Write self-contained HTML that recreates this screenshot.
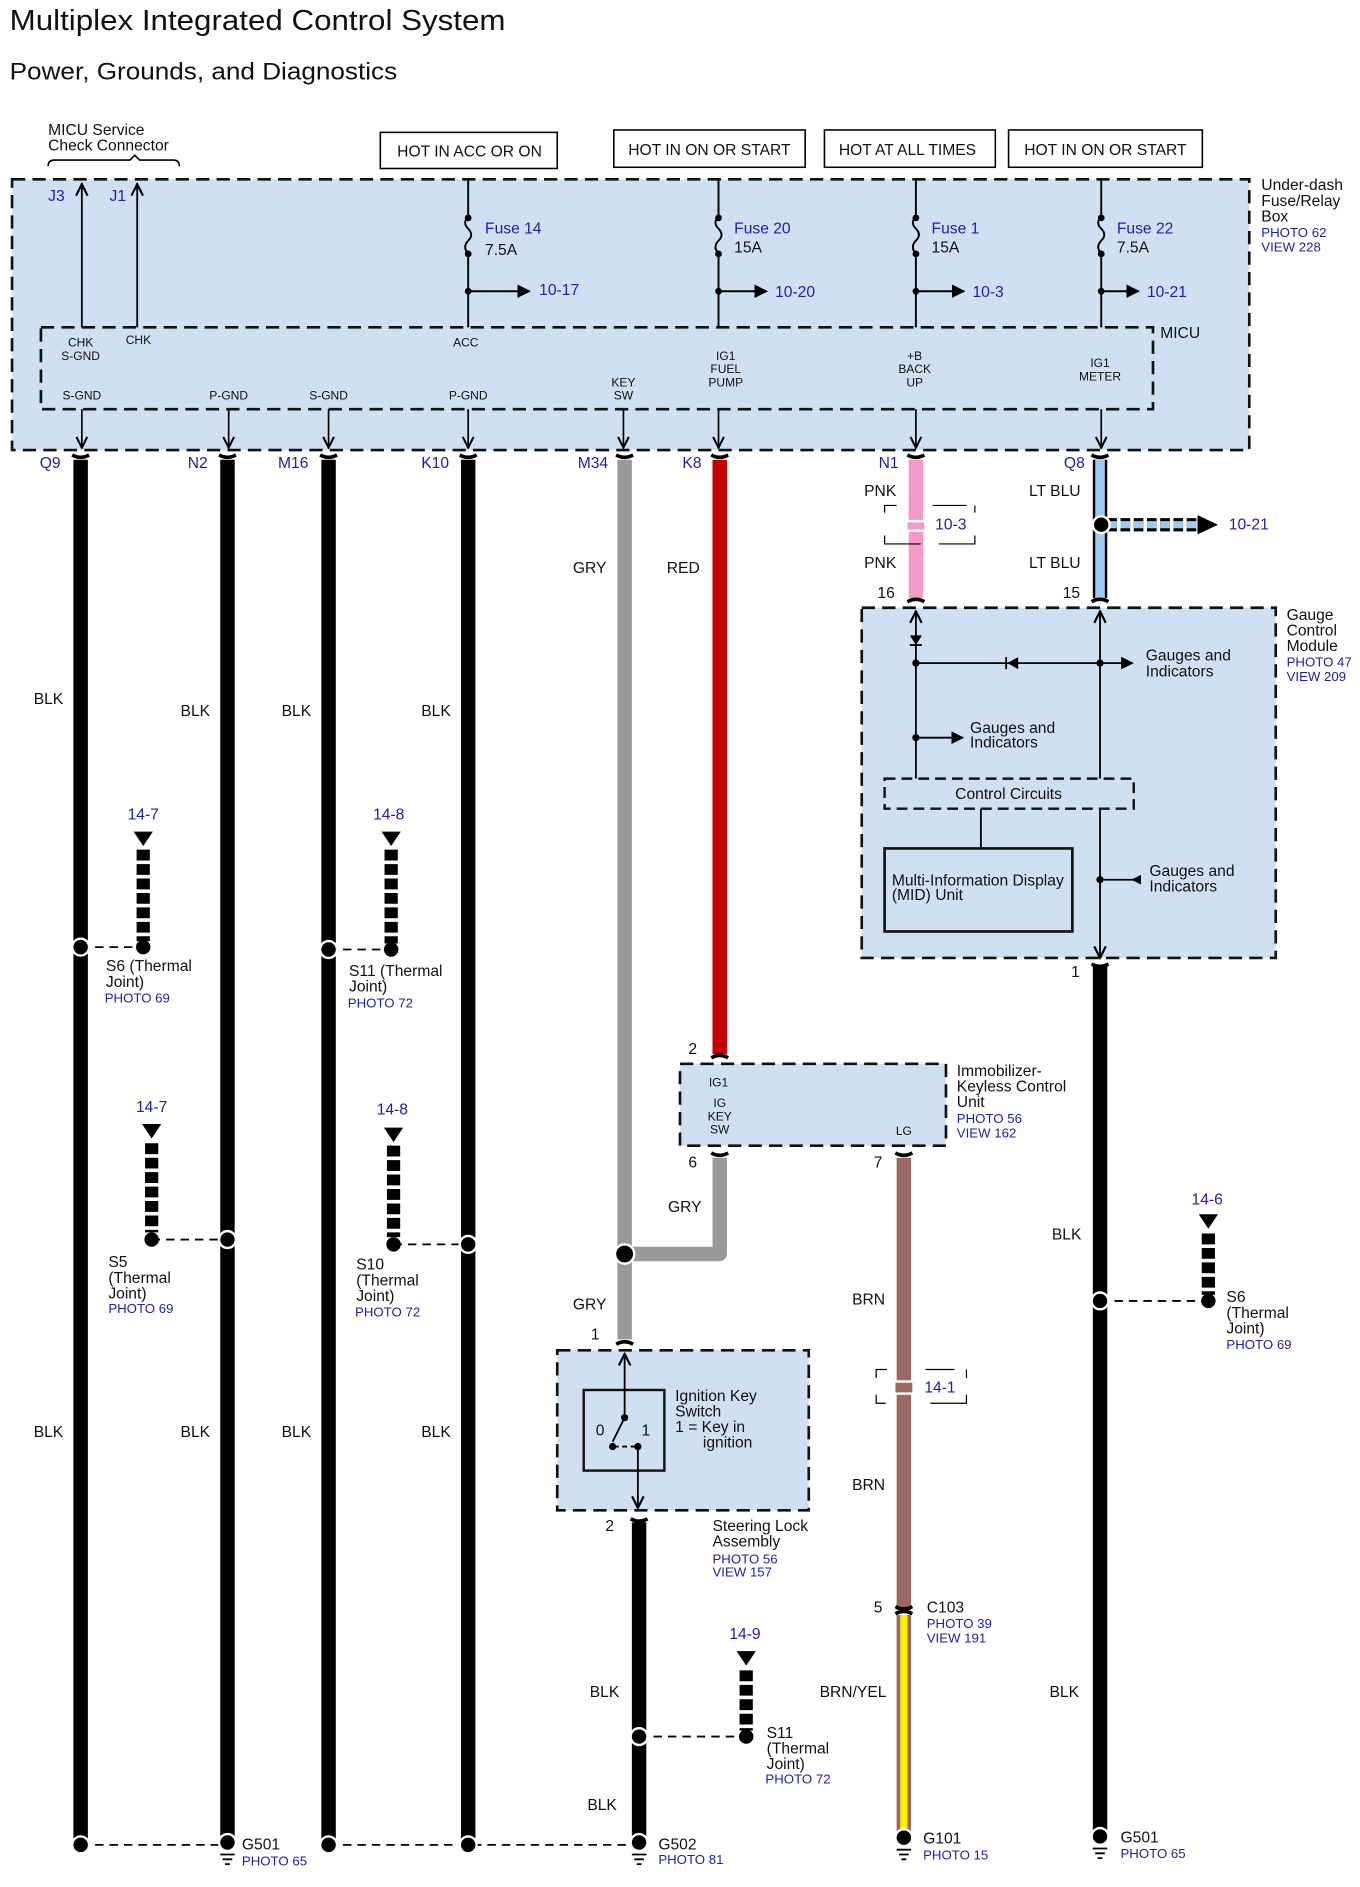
<!DOCTYPE html>
<html><head><meta charset="utf-8">
<style>
html,body{margin:0;padding:0;background:#fff}
svg{display:block}
text{font-family:"Liberation Sans",Arial,sans-serif;fill:#111}
.b{fill:#1f1fa6}
.s{font-size:10px}
.m{font-size:13px}
.p{font-size:11px}
</style></head><body>
<svg width="1360" height="1887" viewBox="0 0 1130 1568" preserveAspectRatio="none" xmlns="http://www.w3.org/2000/svg">
<defs>
<marker id="ah" viewBox="0 0 10 10" refX="9" refY="5" markerWidth="7" markerHeight="7" orient="auto"><path d="M0,0 L10,5 L0,10 z" fill="#000"/></marker>
<marker id="oa" viewBox="0 0 10 10" refX="9" refY="5" markerWidth="8" markerHeight="8" orient="auto"><path d="M1,1 L9,5 L1,9" fill="none" stroke="#000" stroke-width="1.5"/></marker>
</defs>
<rect width="1130" height="1568" fill="#fff"/>
<text x="8" y="25" style="font-size:24px" textLength="412" lengthAdjust="spacingAndGlyphs">Multiplex Integrated Control System</text>
<text x="8" y="66" style="font-size:20px" textLength="322" lengthAdjust="spacingAndGlyphs">Power, Grounds, and Diagnostics</text>

<!-- header -->
<text x="40" y="112" class="m">MICU Service</text>
<text x="40" y="125" class="m">Check Connector</text>
<path d="M40,138 q0,-5 5,-5 h63 l4,-4 l4,4 h28 q5,0 5,5" fill="none" stroke="#000" stroke-width="1.3"/>
<g fill="#fff" stroke="#000" stroke-width="1.3">
<rect x="316" y="110" width="147" height="30"/>
<rect x="510" y="108" width="159" height="31"/>
<rect x="685" y="108" width="142" height="31"/>
<rect x="838" y="108" width="161" height="31"/>
</g>
<text x="330" y="130" class="m">HOT IN ACC OR ON</text>
<text x="522" y="129" class="m">HOT IN ON OR START</text>
<text x="697" y="129" class="m">HOT AT ALL TIMES</text>
<text x="851" y="129" class="m">HOT IN ON OR START</text>

<!-- fuse box -->
<rect x="10" y="149" width="1028" height="225" fill="#cfe0f3" stroke="#111" stroke-width="2.2" stroke-dasharray="11,6"/>
<rect x="34" y="272" width="924" height="68" fill="#cfe0f3" stroke="#111" stroke-width="2.2" stroke-dasharray="11,6"/>
<text x="1048" y="158" class="m">Under-dash</text>
<text x="1048" y="171" class="m">Fuse/Relay</text>
<text x="1048" y="184" class="m">Box</text>
<text x="1048" y="197" class="p b">PHOTO 62</text>
<text x="1048" y="209" class="p b">VIEW 228</text>
<text x="964" y="281" class="m">MICU</text>
<g stroke="#000" stroke-width="1.5" fill="none">
<line x1="68" y1="272" x2="68" y2="153" marker-end="url(#oa)"/>
<line x1="114" y1="272" x2="114" y2="153" marker-end="url(#oa)"/>
</g>
<text x="40" y="167" class="m b">J3</text>
<text x="91" y="167" class="m b">J1</text>
<g stroke="#000" stroke-width="1.6" fill="none">
<path d="M389,149 V180 q-5,5 0,10 q5,5 0,10 q-5,5 0,11 V272"/>
<path d="M597,149 V180 q-5,5 0,10 q5,5 0,10 q-5,5 0,11 V272"/>
<path d="M761,149 V180 q-5,5 0,10 q5,5 0,10 q-5,5 0,11 V272"/>
<path d="M915,149 V180 q-5,5 0,10 q5,5 0,10 q-5,5 0,11 V272"/>
<line x1="389" y1="242" x2="440" y2="242" marker-end="url(#ah)"/>
<line x1="597" y1="242" x2="637" y2="242" marker-end="url(#ah)"/>
<line x1="761" y1="242" x2="801" y2="242" marker-end="url(#ah)"/>
<line x1="915" y1="242" x2="946" y2="242" marker-end="url(#ah)"/>
</g>
<g fill="#000">
<circle cx="389" cy="181" r="2.8"/><circle cx="389" cy="211" r="2.8"/><circle cx="389" cy="242" r="2.8"/>
<circle cx="597" cy="181" r="2.8"/><circle cx="597" cy="211" r="2.8"/><circle cx="597" cy="242" r="2.8"/>
<circle cx="761" cy="181" r="2.8"/><circle cx="761" cy="211" r="2.8"/><circle cx="761" cy="242" r="2.8"/>
<circle cx="915" cy="181" r="2.8"/><circle cx="915" cy="211" r="2.8"/><circle cx="915" cy="242" r="2.8"/>
</g>
<text x="403" y="194" class="m b">Fuse 14</text><text x="403" y="212" class="m">7.5A</text>
<text x="610" y="194" class="m b">Fuse 20</text><text x="610" y="210" class="m">15A</text>
<text x="774" y="194" class="m b">Fuse 1</text><text x="774" y="210" class="m">15A</text>
<text x="928" y="194" class="m b">Fuse 22</text><text x="928" y="210" class="m">7.5A</text>
<text x="448" y="245" class="m b">10-17</text>
<text x="644" y="247" class="m b">10-20</text>
<text x="808" y="247" class="m b">10-3</text>
<text x="953" y="247" class="m b">10-21</text>

<g class="s" text-anchor="middle">
<text x="67" y="288" class="s">CHK</text><text x="67" y="299" class="s">S-GND</text>
<text x="115" y="286" class="s">CHK</text>
<text x="387" y="288" class="s">ACC</text>
<text x="68" y="332" class="s">S-GND</text>
<text x="190" y="332" class="s">P-GND</text>
<text x="273" y="332" class="s">S-GND</text>
<text x="389" y="332" class="s">P-GND</text>
<text x="518" y="321" class="s">KEY</text><text x="518" y="332" class="s">SW</text>
<text x="603" y="299" class="s">IG1</text><text x="603" y="310" class="s">FUEL</text><text x="603" y="321" class="s">PUMP</text>
<text x="760" y="299" class="s">+B</text><text x="760" y="310" class="s">BACK</text><text x="760" y="321" class="s">UP</text>
<text x="914" y="305" class="s">IG1</text><text x="914" y="316" class="s">METER</text>
</g>
<g stroke="#000" stroke-width="1.4" fill="none">
<line x1="68" y1="340" x2="68" y2="372" marker-end="url(#oa)"/>
<line x1="190" y1="340" x2="190" y2="372" marker-end="url(#oa)"/>
<line x1="273" y1="340" x2="273" y2="372" marker-end="url(#oa)"/>
<line x1="389" y1="340" x2="389" y2="372" marker-end="url(#oa)"/>
<line x1="518" y1="340" x2="518" y2="372" marker-end="url(#oa)"/>
<line x1="597" y1="340" x2="597" y2="372" marker-end="url(#oa)"/>
<line x1="761" y1="340" x2="761" y2="372" marker-end="url(#oa)"/>
<line x1="915" y1="340" x2="915" y2="372" marker-end="url(#oa)"/>
</g>
<g class="m b">
<text x="33" y="389" class="m b">Q9</text>
<text x="156" y="389" class="m b">N2</text>
<text x="231" y="389" class="m b">M16</text>
<text x="350" y="389" class="m b">K10</text>
<text x="480" y="389" class="m b">M34</text>
<text x="567" y="389" class="m b">K8</text>
<text x="730" y="389" class="m b">N1</text>
<text x="884" y="389" class="m b">Q8</text>
</g>

<!-- wires -->
<g stroke-width="12" fill="none">
<line x1="67" y1="382" x2="67" y2="1533" stroke="#000"/>
<line x1="189" y1="382" x2="189" y2="1530" stroke="#000"/>
<line x1="273" y1="382" x2="273" y2="1533" stroke="#000"/>
<line x1="389" y1="382" x2="389" y2="1533" stroke="#000"/>
<line x1="519" y1="382" x2="519" y2="1113" stroke="#999"/>
<line x1="598" y1="382" x2="598" y2="876" stroke="#c40000"/>
<path d="M598,962 V1042 H519" stroke="#999" stroke-linejoin="round"/>
<line x1="761" y1="382" x2="761" y2="497" stroke="#f59ac8"/>
<line x1="751" y1="962" x2="751" y2="1338" stroke="#9b6863"/>
<line x1="531" y1="1265" x2="531" y2="1530" stroke="#000"/>
<line x1="914" y1="802" x2="914" y2="1528" stroke="#000"/>
</g>
<line x1="914" y1="382" x2="914" y2="497" stroke="#000" stroke-width="12"/>
<line x1="914" y1="382" x2="914" y2="497" stroke="#9ec9f0" stroke-width="8"/>
<line x1="751" y1="1342" x2="751" y2="1525" stroke="#9b6863" stroke-width="12"/>
<line x1="751" y1="1342" x2="751" y2="1525" stroke="#ffee00" stroke-width="6"/>
<!-- connector caps -->
<g fill="none" stroke="#000" stroke-width="3">
<path d="M60,378 q7,4 14,0"/><path d="M182,378 q7,4 14,0"/><path d="M266,378 q7,4 14,0"/><path d="M382,378 q7,4 14,0"/>
<path d="M512,378 q7,4 14,0"/><path d="M591,378 q7,4 14,0"/><path d="M754,378 q7,4 14,0"/><path d="M907,378 q7,4 14,0"/>
<path d="M754,500 q7,-4 14,0"/><path d="M907,500 q7,-4 14,0"/>
<path d="M907,801 q7,4 14,0"/>
<path d="M591,879 q7,-4 14,0"/>
<path d="M591,958 q7,4 14,0"/><path d="M744,958 q7,4 14,0"/>
<path d="M512,1117 q7,-4 14,0"/>
<path d="M524,1262 q7,4 14,0"/>
<path d="M744,1335 q7,4 14,0"/><path d="M744,1341 q7,-4 14,0"/>
</g>
<!-- 10-3 bracket -->
<rect x="754" y="432" width="14" height="10" fill="#fff"/>
<rect x="754" y="434" width="14" height="6" fill="#f59ac8"/>
<path d="M745,420 h-10 v6 M735,445 v7 h30 M775,420 h28 M810,420 v6 M810,445 v7 h-30" fill="none" stroke="#000" stroke-width="1"/>
<text x="777" y="440" class="m b">10-3</text>
<text x="718" y="412" class="m">PNK</text><text x="718" y="472" class="m">PNK</text>
<text x="855" y="412" class="m">LT BLU</text><text x="855" y="472" class="m">LT BLU</text>
<text x="729" y="497" class="m">16</text><text x="883" y="497" class="m">15</text>
<!-- 10-21 arrow -->
<line x1="920" y1="436" x2="995" y2="436" stroke="#000" stroke-width="11" stroke-dasharray="8,3"/>
<line x1="920" y1="436" x2="995" y2="436" stroke="#9ec9f0" stroke-width="6" stroke-dasharray="8,3"/>
<path d="M995,428 L1012,436 L995,444 z" fill="#000"/>
<circle cx="915" cy="436" r="7" fill="#000" stroke="#fff" stroke-width="2"/>
<text x="1021" y="440" class="m b">10-21</text>
<text x="476" y="476" class="m">GRY</text>
<text x="554" y="476" class="m">RED</text>
<g class="m">
<text x="28" y="585" class="m">BLK</text><text x="150" y="595" class="m">BLK</text><text x="234" y="595" class="m">BLK</text><text x="350" y="595" class="m">BLK</text>
<text x="28" y="1194" class="m">BLK</text><text x="150" y="1194" class="m">BLK</text><text x="234" y="1194" class="m">BLK</text><text x="350" y="1194" class="m">BLK</text>
</g>

<!-- Gauge module -->
<rect x="716" y="505" width="344" height="291" fill="#cfe0f3" stroke="#111" stroke-width="2.2" stroke-dasharray="11,6"/>
<text x="1069" y="515" class="m">Gauge</text><text x="1069" y="528" class="m">Control</text><text x="1069" y="541" class="m">Module</text>
<text x="1069" y="554" class="p b">PHOTO 47</text><text x="1069" y="566" class="p b">VIEW 209</text>
<g stroke="#000" stroke-width="1.5" fill="none">
<line x1="761" y1="647" x2="761" y2="508" marker-end="url(#oa)"/>
<line x1="914" y1="647" x2="914" y2="508" marker-end="url(#oa)"/>
<line x1="914" y1="672" x2="914" y2="796" marker-end="url(#oa)"/>
<line x1="761" y1="551" x2="940" y2="551" />
<line x1="940" y1="551" x2="941" y2="551" marker-end="url(#ah)"/>
<line x1="761" y1="613" x2="800" y2="613" marker-end="url(#ah)"/>
<line x1="946" y1="731" x2="917" y2="731"/>
<line x1="815" y1="672" x2="815" y2="705"/>
<line x1="756" y1="536" x2="766" y2="536"/>
<line x1="836" y1="546" x2="836" y2="556"/>
</g>
<path d="M756,528 L766,528 L761,536 z" fill="#000"/>
<path d="M846,546 L846,556 L837,551 z" fill="#000"/>
<path d="M948,727 L948,735 L940,731 z" fill="#000"/>
<g fill="#000"><circle cx="761" cy="551" r="3"/><circle cx="914" cy="551" r="3"/><circle cx="761" cy="613" r="3"/><circle cx="914" cy="731" r="3"/></g>
<text x="952" y="549" class="m">Gauges and</text><text x="952" y="562" class="m">Indicators</text>
<text x="806" y="609" class="m">Gauges and</text><text x="806" y="621" class="m">Indicators</text>
<text x="955" y="728" class="m">Gauges and</text><text x="955" y="741" class="m">Indicators</text>
<rect x="735" y="647" width="207" height="25" fill="#cfe0f3" stroke="#111" stroke-width="2" stroke-dasharray="9,5"/>
<text x="838" y="664" class="m" text-anchor="middle">Control Circuits</text>
<rect x="735" y="705" width="156" height="69" fill="none" stroke="#111" stroke-width="2.2"/>
<text x="741" y="736" class="m">Multi-Information Display</text><text x="741" y="748" class="m">(MID) Unit</text>
<text x="890" y="812" class="m">1</text>

<!-- thermal joints -->
<g stroke="#000" stroke-width="1.5" stroke-dasharray="7,5" fill="none">
<line x1="67" y1="787" x2="119" y2="787"/>
<line x1="273" y1="789" x2="325" y2="789"/>
<line x1="126" y1="1030" x2="188" y2="1030"/>
<line x1="327" y1="1034" x2="389" y2="1034"/>
<line x1="914" y1="1081" x2="1004" y2="1081"/>
<line x1="531" y1="1443" x2="620" y2="1443"/>
<line x1="67" y1="1533" x2="189" y2="1533"/>
<line x1="273" y1="1533" x2="531" y2="1533"/>
</g>
<g stroke="#000" stroke-width="11" stroke-dasharray="9,3" fill="none">
<line x1="119" y1="706" x2="119" y2="782"/>
<line x1="325" y1="706" x2="325" y2="784"/>
<line x1="126" y1="950" x2="126" y2="1024"/>
<line x1="327" y1="952" x2="327" y2="1028"/>
<line x1="1004" y1="1025" x2="1004" y2="1076"/>
<line x1="620" y1="1388" x2="620" y2="1438"/>
</g>
<g fill="#000">
<path d="M111,691 h16 l-8,12 z"/><path d="M317,691 h16 l-8,12 z"/>
<path d="M118,934 h16 l-8,12 z"/><path d="M319,937 h16 l-8,12 z"/>
<path d="M996,1009 h16 l-8,12 z"/><path d="M612,1372 h16 l-8,12 z"/>
<circle cx="119" cy="787" r="6"/><circle cx="325" cy="789" r="6"/><circle cx="126" cy="1030" r="6"/><circle cx="327" cy="1034" r="6"/>
<circle cx="1004" cy="1081" r="6"/><circle cx="620" cy="1443" r="6"/>
</g>
<g fill="#000" stroke="#fff" stroke-width="2">
<circle cx="67" cy="787" r="7"/><circle cx="273" cy="789" r="7"/><circle cx="189" cy="1030" r="7"/><circle cx="389" cy="1034" r="7"/>
<circle cx="914" cy="1081" r="7"/><circle cx="531" cy="1443" r="7"/><circle cx="519" cy="1042" r="8"/>
<circle cx="67" cy="1533" r="7"/><circle cx="273" cy="1533" r="7"/><circle cx="389" cy="1533" r="7"/>
<circle cx="189" cy="1531" r="7"/><circle cx="531" cy="1531" r="7"/><circle cx="751" cy="1527" r="7"/><circle cx="914" cy="1526" r="7"/>
</g>
<g stroke="#000" stroke-width="1.5">
<path d="M183,1541 h12 M185,1545 h8 M187,1549 h4"/>
<path d="M525,1541 h12 M527,1545 h8 M529,1549 h4"/>
<path d="M745,1537 h12 M747,1541 h8 M749,1545 h4"/>
<path d="M908,1536 h12 M910,1540 h8 M912,1544 h4"/>
</g>
<text x="106" y="681" class="m b">14-7</text><text x="310" y="681" class="m b">14-8</text>
<text x="113" y="924" class="m b">14-7</text><text x="313" y="926" class="m b">14-8</text>
<text x="990" y="1001" class="m b">14-6</text><text x="606" y="1362" class="m b">14-9</text>
<text x="88" y="807" class="m">S6 (Thermal</text><text x="88" y="820" class="m">Joint)</text><text x="87" y="833" class="p b">PHOTO 69</text>
<text x="290" y="811" class="m">S11 (Thermal</text><text x="290" y="824" class="m">Joint)</text><text x="289" y="837" class="p b">PHOTO 72</text>
<text x="90" y="1053" class="m">S5</text><text x="90" y="1066" class="m">(Thermal</text><text x="90" y="1079" class="m">Joint)</text><text x="90" y="1091" class="p b">PHOTO 69</text>
<text x="296" y="1055" class="m">S10</text><text x="296" y="1068" class="m">(Thermal</text><text x="296" y="1081" class="m">Joint)</text><text x="295" y="1094" class="p b">PHOTO 72</text>
<text x="1019" y="1082" class="m">S6</text><text x="1019" y="1095" class="m">(Thermal</text><text x="1019" y="1108" class="m">Joint)</text><text x="1019" y="1121" class="p b">PHOTO 69</text>
<text x="637" y="1444" class="m">S11</text><text x="637" y="1457" class="m">(Thermal</text><text x="637" y="1470" class="m">Joint)</text><text x="636" y="1482" class="p b">PHOTO 72</text>
<text x="874" y="1030" class="m">BLK</text><text x="872" y="1410" class="m">BLK</text>

<!-- immobilizer -->
<rect x="565" y="884" width="221" height="68" fill="#cfe0f3" stroke="#111" stroke-width="2.2" stroke-dasharray="11,6"/>
<text x="597" y="903" class="s" text-anchor="middle">IG1</text>
<text x="598" y="920" class="s" text-anchor="middle">IG</text><text x="598" y="931" class="s" text-anchor="middle">KEY</text><text x="598" y="942" class="s" text-anchor="middle">SW</text>
<text x="751" y="943" class="s" text-anchor="middle">LG</text>
<text x="795" y="894" class="m">Immobilizer-</text><text x="795" y="907" class="m">Keyless Control</text><text x="795" y="920" class="m">Unit</text>
<text x="795" y="933" class="p b">PHOTO 56</text><text x="795" y="945" class="p b">VIEW 162</text>
<text x="572" y="876" class="m">2</text><text x="572" y="970" class="m">6</text><text x="726" y="970" class="m">7</text>
<text x="555" y="1007" class="m">GRY</text>
<text x="476" y="1088" class="m">GRY</text>
<text x="491" y="1113" class="m">1</text>
<text x="708" y="1084" class="m">BRN</text><text x="708" y="1238" class="m">BRN</text>
<rect x="744" y="1147" width="14" height="12" fill="#fff"/>
<rect x="744" y="1149" width="14" height="8" fill="#9b6863"/>
<path d="M737,1138 h-9 v7 M728,1159 v7 h8 M769,1138 h24 M803,1138 v7 M803,1159 v7 h-30" fill="none" stroke="#000" stroke-width="1"/>
<text x="768" y="1157" class="m b">14-1</text>
<text x="726" y="1340" class="m">5</text>
<text x="770" y="1340" class="m">C103</text><text x="770" y="1353" class="p b">PHOTO 39</text><text x="770" y="1365" class="p b">VIEW 191</text>
<text x="681" y="1410" class="m">BRN/YEL</text>

<!-- steering lock -->
<rect x="463" y="1122" width="209" height="133" fill="#cfe0f3" stroke="#111" stroke-width="2.2" stroke-dasharray="11,6"/>
<rect x="485" y="1155" width="67" height="67" fill="none" stroke="#111" stroke-width="2"/>
<g stroke="#000" stroke-width="1.5" fill="none">
<line x1="519" y1="1178" x2="519" y2="1125" marker-end="url(#oa)"/>
<line x1="519" y1="1178" x2="509" y2="1198"/>
<line x1="510" y1="1202" x2="530" y2="1202" stroke-dasharray="4,3"/>
<line x1="530" y1="1202" x2="530" y2="1253" marker-end="url(#oa)"/>
</g>
<g fill="#000"><circle cx="519" cy="1178" r="3"/><circle cx="509" cy="1202" r="3"/><circle cx="530" cy="1202" r="3"/></g>
<text x="495" y="1193" class="m">0</text><text x="533" y="1193" class="m">1</text>
<text x="561" y="1164" class="m">Ignition Key</text><text x="561" y="1177" class="m">Switch</text><text x="561" y="1190" class="m">1 = Key in</text><text x="584" y="1203" class="m">ignition</text>
<text x="503" y="1272" class="m">2</text>
<text x="592" y="1272" class="m">Steering Lock</text><text x="592" y="1285" class="m">Assembly</text>
<text x="592" y="1299" class="p b">PHOTO 56</text><text x="592" y="1310" class="p b">VIEW 157</text>
<text x="490" y="1410" class="m">BLK</text><text x="488" y="1504" class="m">BLK</text>

<!-- grounds -->
<text x="201" y="1537" class="m">G501</text><text x="201" y="1550" class="p b">PHOTO 65</text>
<text x="547" y="1537" class="m">G502</text><text x="547" y="1549" class="p b">PHOTO 81</text>
<text x="767" y="1532" class="m">G101</text><text x="767" y="1545" class="p b">PHOTO 15</text>
<text x="931" y="1531" class="m">G501</text><text x="931" y="1544" class="p b">PHOTO 65</text>
</svg>
</body></html>
